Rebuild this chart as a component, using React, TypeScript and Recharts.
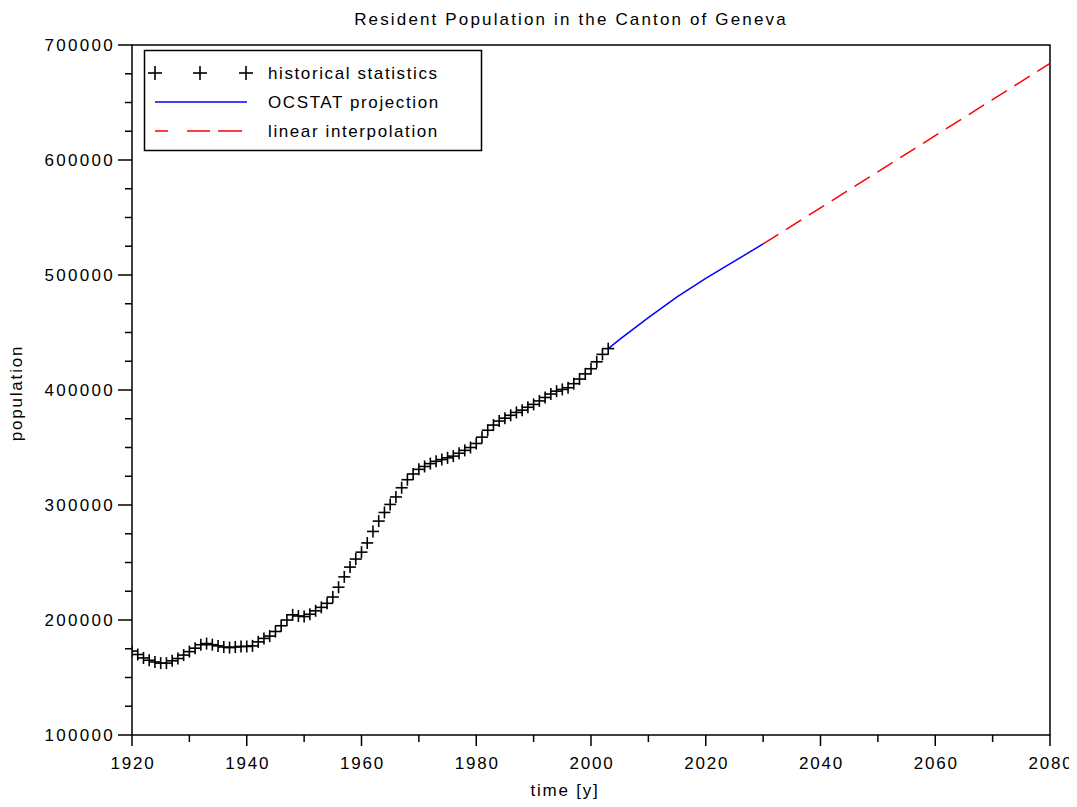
import React from 'react';
import { ComposedChart, Line, XAxis, YAxis, ReferenceArea, Customized } from 'recharts';

// Resident population, canton of Geneva (yearly census figures)
const histYears = [
  1920, 1921, 1922, 1923, 1924, 1925, 1926, 1927, 1928, 1929,
  1930, 1931, 1932, 1933, 1934, 1935, 1936, 1937, 1938, 1939,
  1940, 1941, 1942, 1943, 1944, 1945, 1946, 1947, 1948, 1949,
  1950, 1951, 1952, 1953, 1954, 1955, 1956, 1957, 1958, 1959,
  1960, 1961, 1962, 1963, 1964, 1965, 1966, 1967, 1968, 1969,
  1970, 1971, 1972, 1973, 1974, 1975, 1976, 1977, 1978, 1979,
  1980, 1981, 1982, 1983, 1984, 1985, 1986, 1987, 1988, 1989,
  1990, 1991, 1992, 1993, 1994, 1995, 1996, 1997, 1998, 1999,
  2000, 2001, 2002, 2003,
];
const histPop = [
  173000, 170000, 167000, 165000, 163500, 162500, 162500, 164500, 166500, 169500,
  172500, 175500, 178500, 179500, 178500, 177500, 176500, 176000, 176500, 177000,
  177000, 177500, 181000, 184000, 186000, 190000, 195000, 200000, 204500, 203500,
  203000, 205000, 208000, 211000, 214500, 220000, 228500, 237500, 246000, 253000,
  259000, 267000, 277000, 286000, 293500, 300500, 307000, 315000, 322000, 327000,
  331000, 333500, 336000, 338000, 339500, 341000, 342500, 345000, 347500, 350000,
  353500, 359000, 365000, 369500, 373000, 375500, 378000, 380500, 382500, 385000,
  387500, 390500, 393500, 396500, 399000, 400500, 402000, 405500, 409500, 414000,
  418500, 424500, 431000, 436000,
];

// OCSTAT projection
const projYears = [2003, 2005, 2010, 2015, 2020, 2025, 2030];
const projPop = [436000, 444000, 463000, 481000, 497000, 512000, 527000];

// straight-line extension
const linYears = [2030, 2080];
const linPop = [527000, 684000];

const xTicks = [1920, 1930, 1940, 1950, 1960, 1970, 1980, 1990, 2000, 2010, 2020, 2030, 2040, 2050, 2060, 2070, 2080];
const yTicks = [
  100000, 125000, 150000, 175000, 200000, 225000, 250000, 275000, 300000, 325000,
  350000, 375000, 400000, 425000, 450000, 475000, 500000, 525000, 550000, 575000,
  600000, 625000, 650000, 675000, 700000,
];

const legendItems = [
  { label: 'historical statistics', kind: 'plus' },
  { label: 'OCSTAT projection', kind: 'solid' },
  { label: 'linear interpolation', kind: 'dash' },
];

const toRows = (years: number[], pops: number[]) => years.map((year, i) => ({ year, pop: pops[i] }));
const histData = toRows(histYears, histPop);
const projData = toRows(projYears, projPop);
const linData = toRows(linYears, linPop);

const FONT = '"Liberation Sans", Arial, sans-serif';
const textStyle = { fontFamily: FONT, fontSize: 17, letterSpacing: 1.8, fill: '#000' };

const Plus = ({ cx, cy, r = 6 }: { cx: number; cy: number; r?: number }) => (
  <g stroke="#000" strokeWidth={1.6}>
    <line x1={cx - r} x2={cx + r} y1={cy} y2={cy} />
    <line x1={cx} x2={cx} y1={cy - r} y2={cy + r} />
  </g>
);

// plot frame edges
const LEFT = 132;
const BOTTOM = 735;

const XTick = (props: any) => {
  const { x, payload } = props;
  const major = payload.value % 20 === 0;
  return (
    <g>
      <line x1={x} x2={x} y1={BOTTOM} y2={BOTTOM + (major ? 11 : 7)} stroke="#000" strokeWidth={1.5} />
      {major && (
        <text x={x + 1} y={BOTTOM + 34} textAnchor="middle" style={textStyle}>
          {payload.value}
        </text>
      )}
    </g>
  );
};

const YTick = (props: any) => {
  const { y, payload } = props;
  const major = payload.value % 100000 === 0;
  return (
    <g>
      <line x1={LEFT} x2={LEFT - (major ? 14 : 7)} y1={y} y2={y} stroke="#000" strokeWidth={1.5} />
      {major && (
        <text x={LEFT - 17} y={y + 6} textAnchor="end" style={{ ...textStyle, letterSpacing: 2.3 }}>
          {payload.value}
        </text>
      )}
    </g>
  );
};

// title, axis names and the boxed legend
const Decorations = () => (
  <g>
    <text x={571} y={25} textAnchor="middle" style={{ ...textStyle, letterSpacing: 2.15 }}>
      Resident Population in the Canton of Geneva
    </text>
    <text x={565} y={796} textAnchor="middle" style={textStyle}>
      time [y]
    </text>
    <text x={22} y={393} textAnchor="middle" transform="rotate(-90 22 393)" style={textStyle}>
      population
    </text>
    <rect x={144.5} y={50.5} width={337} height={100} fill="#fff" stroke="#000" strokeWidth={1.5} />
    {legendItems.map((item, i) => {
      const cy = 73 + i * 29;
      return (
        <g key={item.label}>
          {item.kind === 'plus' && [155, 200, 246].map((px) => <Plus key={px} cx={px} cy={cy} r={7} />)}
          {item.kind === 'solid' && <line x1={155} x2={247} y1={cy} y2={cy} stroke="#0000ff" strokeWidth={1.5} />}
          {item.kind === 'dash' && (
            <line x1={155} x2={242} y1={cy} y2={cy} stroke="#ff0000" strokeWidth={1.5} strokeDasharray="13 19 23 8 24 20" />
          )}
          <text x={268} y={cy + 6} style={{ ...textStyle, letterSpacing: 1.6 }}>
            {item.label}
          </text>
        </g>
      );
    })}
  </g>
);

export default function App() {
  return (
    <div style={{ margin: -8, width: 1077, height: 807, background: '#fff' }}>
      <ComposedChart width={1077} height={807} margin={{ top: 45, left: 72, right: 27, bottom: 32 }}>
        <XAxis
          dataKey="year"
          type="number"
          domain={[1920, 2080]}
          ticks={xTicks}
          interval={0}
          height={40}
          axisLine={false}
          tickLine={false}
          tick={XTick}
          allowDataOverflow
        />
        <YAxis
          type="number"
          domain={[100000, 700000]}
          ticks={yTicks}
          interval={0}
          width={60}
          axisLine={false}
          tickLine={false}
          tick={YTick}
          allowDataOverflow
        />
        <ReferenceArea x1={1920} x2={2080} y1={100000} y2={700000} fill="none" stroke="#000" strokeWidth={1.5} />
        <Line
          data={projData}
          dataKey="pop"
          stroke="#0000ff"
          strokeWidth={1.5}
          dot={false}
          activeDot={false}
          isAnimationActive={false}
        />
        <Line
          data={linData}
          dataKey="pop"
          stroke="#ff0000"
          strokeWidth={1.5}
          strokeDasharray="18 9"
          dot={false}
          activeDot={false}
          isAnimationActive={false}
        />
        <Line
          data={histData}
          dataKey="pop"
          stroke="none"
          dot={(p: any) => <Plus key={p.index} cx={p.cx} cy={p.cy} />}
          activeDot={false}
          isAnimationActive={false}
        />
        <Customized component={Decorations} />
      </ComposedChart>
    </div>
  );
}
